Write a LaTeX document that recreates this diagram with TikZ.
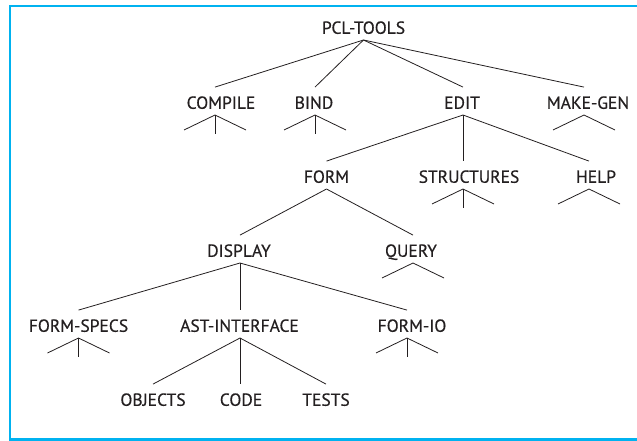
\documentclass[tikz,border=0pt]{standalone}
\usepackage{fontspec}
\setmainfont{PT Sans}
\newfontfamily\lblfont{PT Sans}[FakeBold=0.5]
\definecolor{framecyan}{RGB}{0,178,240}
\definecolor{inkgray}{RGB}{35,31,32}
\begin{document}
\begin{tikzpicture}[x=1pt,y=-1pt,
  lbl/.style={inner sep=0pt, text height=12.5pt, text depth=0pt, anchor=south,
              font=\lblfont\fontsize{17.5}{18}\selectfont, text=inkgray},
  link/.style={line width=0.8pt, draw=inkgray},
  frameline/.style={line width=2.4pt, draw=framecyan}]
\useasboundingbox (0,0) rectangle (637,441);
\clip (0,0) rectangle (637,441);

% outer frame, open to the right
\draw[frameline] (10,6) rectangle (680,439.5);

% axis points of a label: where the incoming connector ends (up)
% and where the outgoing connectors start (dn)
\newcommand\treeaxis[2]{%
  \coordinate (#1-up) at ([xshift=#2, yshift=9pt]#1.north);
  \coordinate (#1-dn) at ([xshift=#2, yshift=-6pt]#1.south);}
% collapsed subtree marker, with or without a middle stem
\newcommand\stubtip[1]{%
  \draw[link] ([shift={(-31,15)}]#1-dn) -- (#1-dn) -- ([shift={(31,15)}]#1-dn);}
\newcommand\stubstem[1]{%
  \stubtip{#1}\draw[link] (#1-dn) -- ([shift={(0,19)}]#1-dn);}

% labels (placed on their baselines)
\node[lbl] (pcl)      at (363.5,34)  {PCL-TOOLS};
\node[lbl] (compile)  at (221,109)   {COMPILE};
\node[lbl] (bind)     at (314,109)   {BIND};
\node[lbl] (edit)     at (462,109)   {EDIT};
\node[lbl] (makegen)  at (588,109)   {MAKE-GEN};
\node[lbl] (form)     at (326.5,183) {FORM};
\node[lbl] (struct)   at (469,183)   {STRUCTURES};
\node[lbl] (help)     at (596,183)   {HELP};
\node[lbl] (display)  at (239,257)   {DISPLAY};
\node[lbl] (query)    at (411,257)   {QUERY};
\node[lbl] (fspecs)   at (78.5,332)  {FORM-SPECS};
\node[lbl] (astif)    at (239.5,332) {AST-INTERFACE};
\node[lbl] (formio)   at (412,332)   {FORM-IO};
\node[lbl] (objects)  at (153,406)   {OBJECTS};
\node[lbl] (code)     at (241,406)   {CODE};
\node[lbl] (tests)    at (326,406)   {TESTS};

\treeaxis{pcl}{0pt}
\treeaxis{compile}{-6pt}
\treeaxis{bind}{1pt}
\treeaxis{edit}{1pt}
\treeaxis{makegen}{-4pt}
\treeaxis{form}{0pt}
\treeaxis{struct}{-6pt}
\treeaxis{help}{-7pt}
\treeaxis{display}{1pt}
\treeaxis{query}{2pt}
\treeaxis{fspecs}{0pt}
\treeaxis{astif}{0.5pt}
\treeaxis{formio}{-5pt}
\treeaxis{objects}{0pt}
\treeaxis{code}{-1pt}
\treeaxis{tests}{0pt}

% connectors
\foreach \c in {compile,bind,edit,makegen} \draw[link] (pcl-dn) -- (\c-up);
\foreach \c in {form,struct,help} \draw[link] (edit-dn) -- (\c-up);
\foreach \c in {display,query} \draw[link] (form-dn) -- (\c-up);
\foreach \c in {fspecs,astif,formio} \draw[link] (display-dn) -- (\c-up);
\foreach \c in {objects,code,tests} \draw[link] (astif-dn) -- (\c-up);

% collapsed subtrees
\stubstem{compile}
\stubstem{bind}
\stubtip{makegen}
\stubstem{struct}
\stubtip{help}
\stubtip{query}
\stubstem{fspecs}
\stubstem{formio}
\end{tikzpicture}
\end{document}
